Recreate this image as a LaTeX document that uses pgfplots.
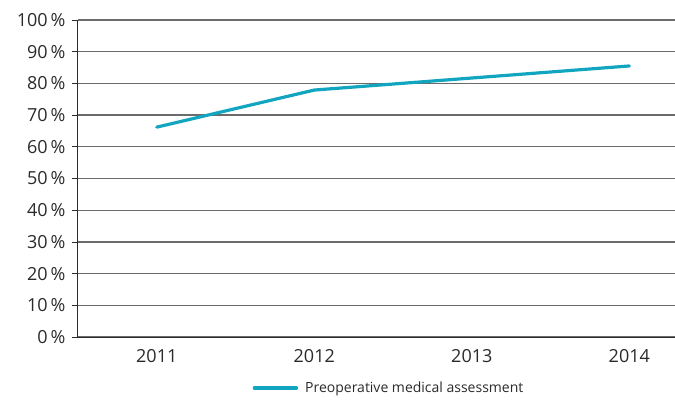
\documentclass[border=0pt]{standalone}
\usepackage{fontspec}
\setmainfont{Open Sans}
\usepackage{pgfplots}
\pgfplotsset{compat=1.18}
\definecolor{teal1}{HTML}{12A5C0}
\definecolor{txt}{HTML}{2A2A2A}
\begin{document}
\begin{tikzpicture}[x=1pt,y=1pt]
\useasboundingbox (-78,-65) rectangle (597,337);
\begin{axis}[
  at={(0,0)}, anchor=south west,
  scale only axis, width=597pt, height=317pt,
  xmin=-0.5, xmax=3.29, ymin=0, ymax=100,
  axis x line*=bottom, axis y line*=left,
  axis line style={txt, line width=1pt},
  xtick={0,1,2,3}, xticklabels={2011,2012,2013,2014},
  x tick style={draw=none},
  ytick={0,10,...,100},
  yticklabel={\pgfmathprintnumber{\tick}\,\%},
  /pgf/number format/assume math mode=true,
  ticklabel style={font=\fontsize{18}{20}\selectfont, text=txt},
  y tick style={txt, line width=0.8pt},
  tick align=outside, major tick length=6pt,
  ymajorgrids, grid style={black!58, line width=1.2pt},
  xticklabel style={yshift=-3pt},
  yticklabel style={xshift=-3pt},
  clip=false,
  legend style={at={(0.521,-0.161)}, anchor=center, draw=none, fill=none,
    font=\fontsize{14}{16}\selectfont, text=txt},
  legend image code/.code={\draw[#1, line width=3.5pt, line cap=round] (0pt,0pt) -- (42pt,0pt);},
]
\addplot[teal1, line width=3.2pt, line cap=round] coordinates {(0,66.2) (1,77.9) (2,81.7) (3,85.5)};
\addlegendentry{\hspace{5pt}Preoperative medical assessment}
\end{axis}
\end{tikzpicture}
\end{document}
